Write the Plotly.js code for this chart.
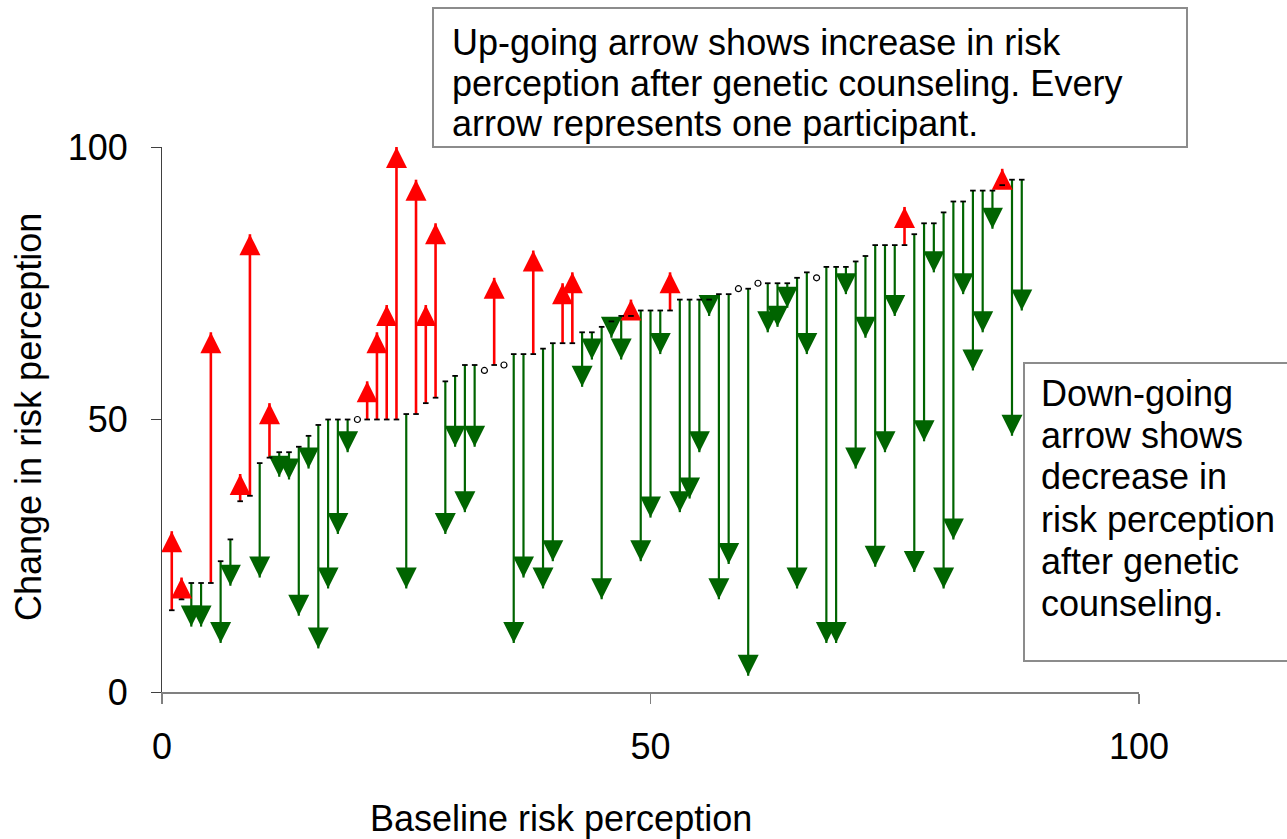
<!DOCTYPE html>
<html>
<head>
<meta charset="utf-8">
<script src="https://cdn.plot.ly/plotly-3.0.1.min.js"></script>
<style>html,body{margin:0;padding:0;background:#fff}#chart{width:1287px;height:839px}</style>
</head>
<body>
<div id="chart"></div>
<script>
// ---- data ----
const participant = [1,2,3,4,5,6,7,8,9,10,11,12,13,14,15,16,17,18,19,20,21,22,23,24,25,26,27,28,29,30,31,32,33,34,35,36,37,38,39,40,41,42,43,44,45,46,47,48,49,50,51,52,53,54,55,56,57,58,59,60,61,62,63,64,65,66,67,68,69,70,71,72,73,74,75,76,77,78,79,80,81,82,83,84,85,86,87,88];
const baseline = [15,17,20,20,20,24,28,35,36,42, 43,44,44,45,47,49,50,50,50,50, 50,50,50,50,51,51,53,54,57,58, 60,60,59,60,60,62,62,62,63,64, 64,64,66,66,67,68,69,69,70,70, 70,70,72,72,72,72,73,73,74,74, 75,75,75,75,76,77,76,78,78,78, 79,80,82,82,82,82,84,86,86,88, 90,90,92,92,92,93,94,94];
const afterCounseling = [29.5,21,12,12,66,9,19.5,40,84,21, 53,39.5,39,14,41,8,19,29,44,50, 57,66,71,100,19,94,71,86,29,45, 33,45,59,76,60,9,21,81,19,24, 75,77,56,61,17,65,61,72,24,32, 62,77,33,35.5,44,69,17,23.5,74,3, 75,66,67,70.5,19,62,76,9,9,73, 41,65,23,44,69,89,22,46,77,19, 28,73,59,66,85,96,47,70];
const xTickVals = [0,50,100];
const yTickVals = [0,50,100];
const xTitleText = 'Baseline risk perception';
const yTitleText = 'Change in risk perception';
const upNoteLines = ['Up-going arrow shows increase in risk','perception after genetic counseling. Every','arrow represents one participant.'];
const downNoteLines = ['Down-going','arrow shows','decrease in','risk perception','after genetic','counseling.'];

// ---- styling ----
const RED = '#ff0000';
const GREEN = '#006400';
const FONT = 'Liberation Sans, Arial, Helvetica, sans-serif';
const W = 1287, H = 839;
const M = {l:162, r:148, t:147, b:147};
const PW = W - M.l - M.r, PH = H - M.t - M.b;
const px2x = X => (X - M.l) / PW;
const px2y = Y => (H - M.b - Y) / PH;

function shafts(test) {
  const xs = [], ys = [];
  participant.forEach((p, i) => {
    if (test(baseline[i], afterCounseling[i])) {
      xs.push(p, p, null); ys.push(baseline[i], afterCounseling[i], null);
    }
  });
  return {xs, ys};
}
function pts(test, useAfter) {
  const xs = [], ys = [];
  participant.forEach((p, i) => {
    if (test(baseline[i], afterCounseling[i])) {
      xs.push(p); ys.push(useAfter ? afterCounseling[i] : baseline[i]);
    }
  });
  return {xs, ys};
}
const up = (b, a) => a > b, down = (b, a) => a < b, same = (b, a) => a === b, changed = (b, a) => a !== b;

const gS = shafts(down), rS = shafts(up);
const baseP = pts(changed, false), sameP = pts(same, false);
const upHead = pts(up, true), downHead = pts(down, true);

const traces = [
  {type:'scatter', mode:'lines', x:gS.xs, y:gS.ys, line:{color:GREEN, width:2.2}, hoverinfo:'skip', cliponaxis:false},
  {type:'scatter', mode:'lines', x:rS.xs, y:rS.ys, line:{color:RED, width:2.6}, hoverinfo:'skip', cliponaxis:false},
  {type:'scatter', mode:'markers', x:upHead.xs, y:upHead.ys, marker:{symbol:'arrow-up', size:21, color:RED, line:{width:0}}, cliponaxis:false},
  {type:'scatter', mode:'markers', x:downHead.xs, y:downHead.ys, marker:{symbol:'arrow-down', size:21, color:GREEN, line:{width:0}}, cliponaxis:false},
  {type:'scatter', mode:'markers', x:baseP.xs, y:baseP.ys, marker:{symbol:'line-ew', size:4, color:'#000', line:{color:'#000', width:1.8}}, cliponaxis:false},
  {type:'scatter', mode:'markers', x:sameP.xs, y:sameP.ys, marker:{symbol:'circle-open', size:6, color:'#000', line:{color:'#000', width:1.2}}, cliponaxis:false}
];

const annotations = [];
const upY = [42, 83, 124];
upNoteLines.forEach((t, k) => annotations.push({xref:'paper', yref:'paper', x:px2x(450), y:px2y(upY[k]), xanchor:'left', yanchor:'middle', text:t, showarrow:false, font:{family:FONT, size:36, color:'#000'}}));
const downY = [393, 435, 477, 519, 561, 603];
downNoteLines.forEach((t, k) => annotations.push({xref:'paper', yref:'paper', x:px2x(1039), y:px2y(downY[k]), xanchor:'left', yanchor:'middle', text:t, showarrow:false, font:{family:FONT, size:36, color:'#000'}}));
annotations.push({xref:'paper', yref:'paper', x:px2x(561), y:px2y(818), xanchor:'center', yanchor:'middle', text:xTitleText, showarrow:false, font:{family:FONT, size:36, color:'#000'}});
annotations.push({xref:'paper', yref:'paper', x:px2x(28), y:px2y(417), xanchor:'center', yanchor:'middle', textangle:-90, text:yTitleText, showarrow:false, font:{family:FONT, size:36, color:'#000'}});

const shapes = [
  {type:'rect', xref:'paper', yref:'paper', x0:px2x(433), x1:px2x(1187), y0:px2y(147), y1:px2y(8), line:{color:'#8c8c8c', width:2}, fillcolor:'#ffffff', layer:'below'},
  {type:'rect', xref:'paper', yref:'paper', x0:px2x(1024), x1:px2x(1300), y0:px2y(661), y1:px2y(363), line:{color:'#8c8c8c', width:2}, fillcolor:'#ffffff', layer:'below'}
];

const layout = {
  width:W, height:H,
  margin:{l:M.l, r:M.r, t:M.t, b:M.b, pad:0},
  paper_bgcolor:'#fff', plot_bgcolor:'rgba(0,0,0,0)',
  showlegend:false,
  font:{family:FONT, size:36, color:'#000'},
  xaxis:{range:[0,100], tickmode:'array', tickvals:xTickVals, ticks:'outside', ticklen:10, tickwidth:1.5, tickcolor:'#808080',
         showline:true, linecolor:'#808080', linewidth:2, showgrid:false, zeroline:false, tickfont:{family:FONT, size:36, color:'#000'}, ticklabelstandoff:12, fixedrange:true},
  yaxis:{range:[0,100], tickmode:'array', tickvals:yTickVals, ticks:'outside', ticklen:10, tickwidth:1, tickcolor:'#404040',
         showline:true, linecolor:'#404040', linewidth:1, showgrid:false, zeroline:false, tickfont:{family:FONT, size:36, color:'#000'}, ticklabelstandoff:16, fixedrange:true},
  annotations, shapes
};

Plotly.newPlot('chart', traces, layout, {displayModeBar:false, staticPlot:true});
</script>
</body>
</html>
